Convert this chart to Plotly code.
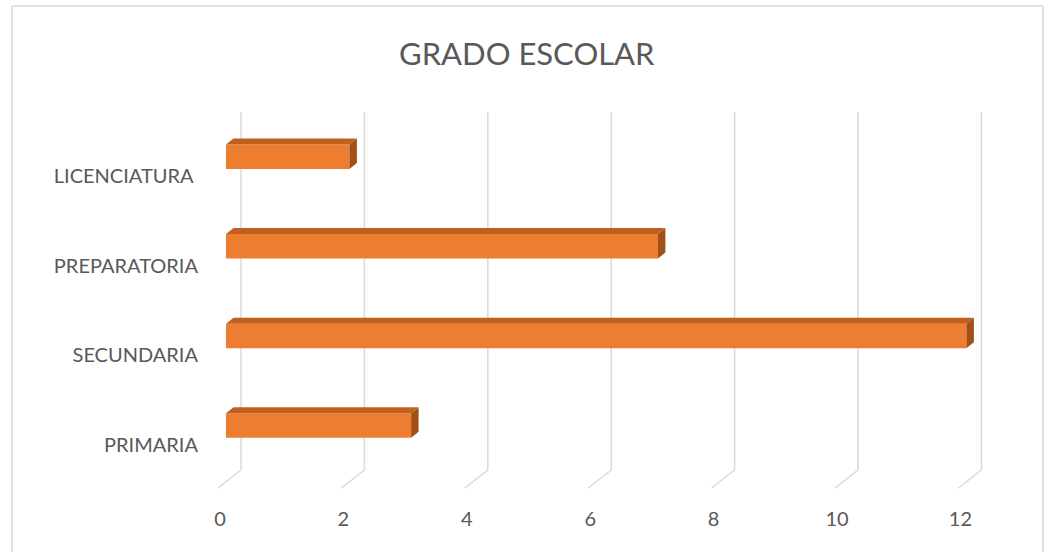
import plotly.graph_objects as go

categories = ["PRIMARIA", "SECUNDARIA", "PREPARATORIA", "LICENCIATURA\u00a0"]
values = [3, 12, 7, 2]
x_ticks = [0, 2, 4, 6, 8, 10, 12]
x_tick_labels = ["0", "2", "4", "6", "8", "10", "12"]
title = "GRADO ESCOLAR"

# layout geometry in page pixels (body margin removed below)
OFF = 0
PAGE_W, PAGE_H = 1045, 552
PL, PR, PT, PB = 200, 1040, 100, 505   # plot area in page px
W, H = PAGE_W - OFF, PAGE_H - OFF
PX_PER_X = 61.7
PX_PER_Y = 89.6
X0_PX = 220          # page px of x=0 tick label
Y0_PX = 445          # page px of first category label
x_range = [(PL - X0_PX) / PX_PER_X, (PR - X0_PX) / PX_PER_X]
y_range = [(Y0_PX - PB) / PX_PER_Y, (Y0_PX - PT) / PX_PER_Y]


def px_x(px):
    return (px - PL) / (PR - PL)


def px_y(py):
    return (PB - py) / (PB - PT)


bar_base = 6 / PX_PER_X
bar_off = 19.5 / PX_PER_Y
bar_h = 24.5 / PX_PER_Y
dx = 7.5 / PX_PER_X
dy = 6 / PX_PER_Y
wall_dx = 21 / PX_PER_X
wall_top = (Y0_PX - 112) / PX_PER_Y
wall_bot = (Y0_PX - 470) / PX_PER_Y
floor_dx = -2 / PX_PER_X
floor_bot = (Y0_PX - 488) / PX_PER_Y

FRONT = "#ED7D31"
TOP = "#C0601F"
SIDE = "#A35017"
GRID = "#D9D9D9"
TXT = "#595959"
FONT = "Lato, 'Open Sans', sans-serif"

ypos = list(range(len(categories)))
fig = go.Figure()

fig.add_trace(go.Bar(
    y=[p + bar_off for p in ypos], x=values, base=bar_base, orientation="h",
    width=bar_h, marker=dict(color=FRONT, line=dict(width=0)), hoverinfo="skip",
))

for p, v in zip(ypos, values):
    y1 = p + bar_off - bar_h / 2
    y2 = p + bar_off + bar_h / 2
    x1 = bar_base
    x2 = bar_base + v
    fig.add_trace(go.Scatter(
        x=[x1, x2, x2 + dx, x1 + dx, x1], y=[y2, y2, y2 + dy, y2 + dy, y2],
        fill="toself", fillcolor=TOP, mode="none", hoverinfo="skip"))
    fig.add_trace(go.Scatter(
        x=[x2, x2 + dx, x2 + dx, x2, x2], y=[y1, y1 + dy, y2 + dy, y2, y1],
        fill="toself", fillcolor=SIDE, mode="none", hoverinfo="skip"))

shapes = []
for t in x_ticks:
    shapes.append(dict(type="line", xref="x", yref="y", layer="below",
                       x0=t + wall_dx, x1=t + wall_dx, y0=wall_bot, y1=wall_top,
                       line=dict(color=GRID, width=1.5)))
    shapes.append(dict(type="line", xref="x", yref="y", layer="below",
                       x0=t + wall_dx, x1=t + floor_dx, y0=wall_bot, y1=floor_bot,
                       line=dict(color=GRID, width=1.5)))
# chart-area frame (left, top, right)
BX0, BX1, BY0, BY1 = 12, 1043, 6, 552
border = dict(xref="paper", yref="paper", layer="below", type="line",
              line=dict(color=GRID, width=1.5))
shapes.append(dict(border, x0=px_x(BX0), x1=px_x(BX0), y0=px_y(BY1), y1=px_y(BY0)))
shapes.append(dict(border, x0=px_x(BX0), x1=px_x(BX1), y0=px_y(BY0), y1=px_y(BY0)))
shapes.append(dict(border, x0=px_x(BX1), x1=px_x(BX1), y0=px_y(BY1), y1=px_y(BY0)))

fig.update_layout(
    template="none",
    width=W, height=H,
    margin=dict(l=PL - OFF, r=W - (PR - OFF), t=PT - OFF, b=H - (PB - OFF),
                autoexpand=False),
    paper_bgcolor="white", plot_bgcolor="rgba(0,0,0,0)",
    showlegend=False, shapes=shapes,
    font=dict(family=FONT, color=TXT, size=20),
    xaxis=dict(range=x_range, tickvals=x_ticks, ticktext=x_tick_labels,
               showgrid=False, zeroline=False, showline=False, ticks="",
               automargin=False, ticklabelstandoff=0,
               tickfont=dict(size=20, color=TXT), fixedrange=True),
    yaxis=dict(range=y_range, tickvals=ypos, ticktext=categories,
               showgrid=False, zeroline=False, showline=False, ticks="",
               automargin=False, ticklabelstandoff=1,
               tickfont=dict(size=20, color=TXT), fixedrange=True),
    annotations=[dict(text=title, xref="paper", yref="paper",
                      x=px_x(527), y=px_y(53),
                      xanchor="center", yanchor="middle", showarrow=False,
                      font=dict(size=31, color=TXT, family=FONT))],
)

fig.write_html(
    "out.html",
    config={"displayModeBar": False},
    post_script="document.body.style.margin='0';document.body.style.overflow='hidden';",
)
